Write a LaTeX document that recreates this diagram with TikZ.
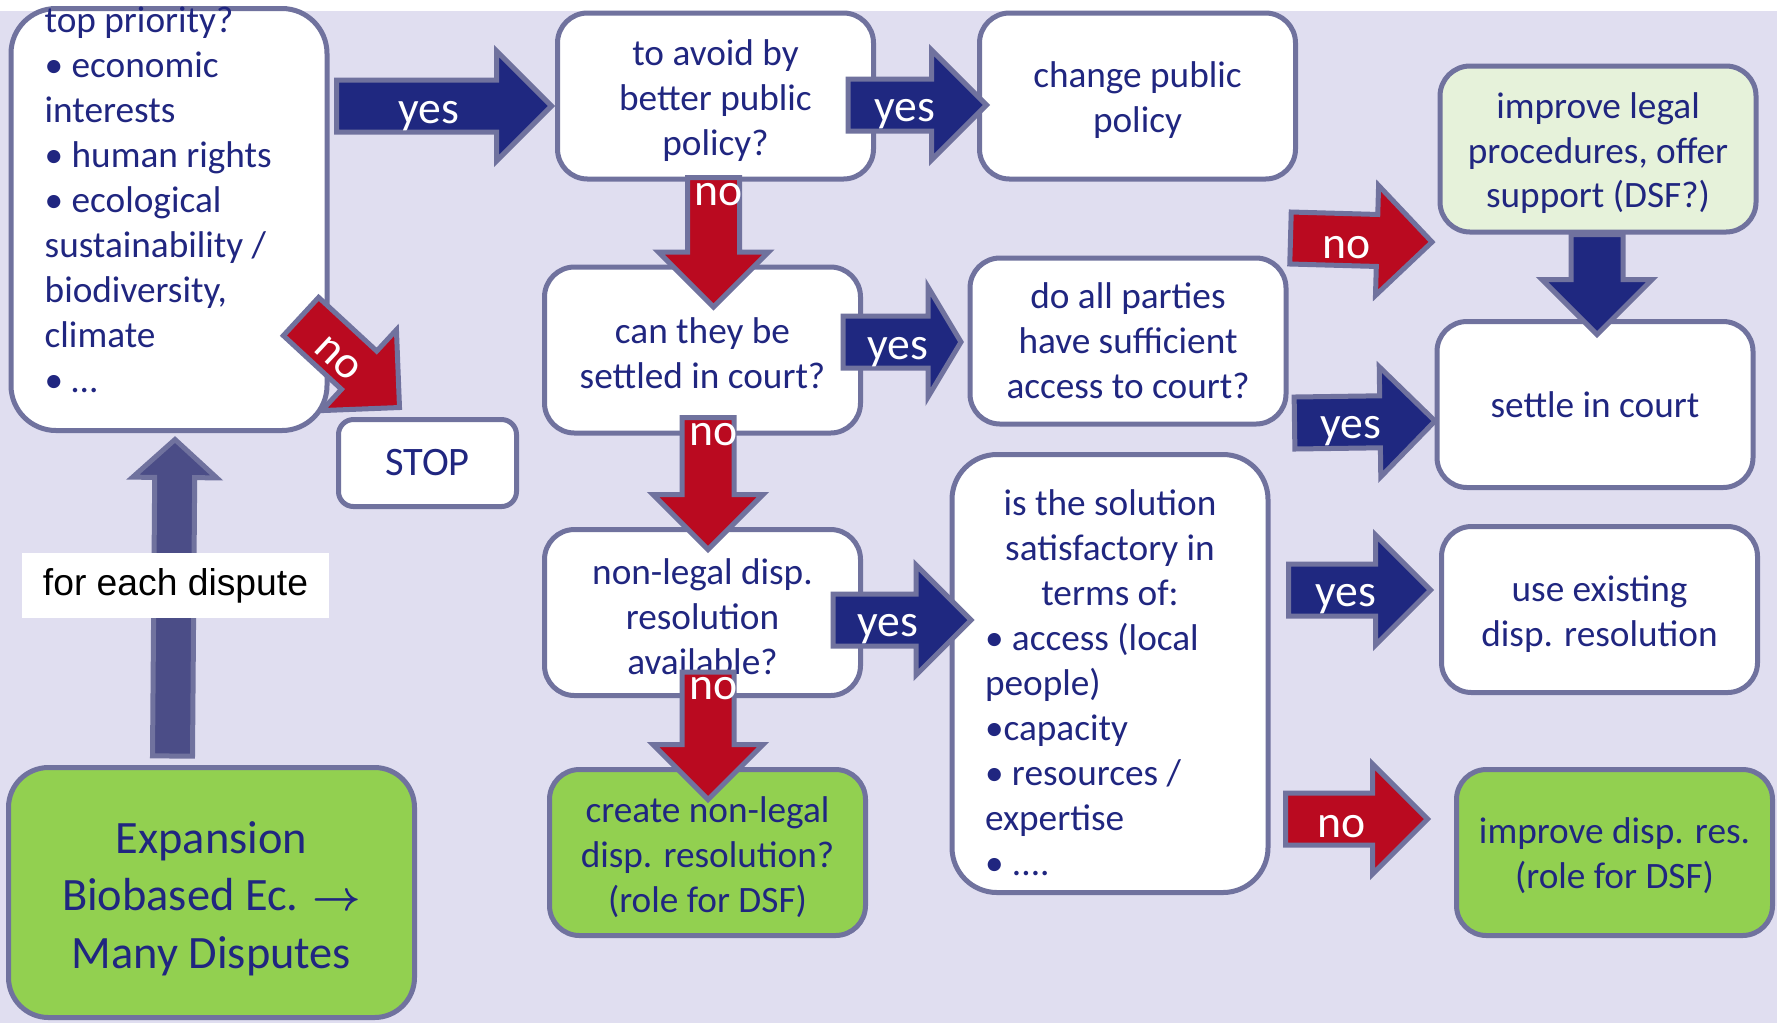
\documentclass[tikz,border=0pt]{standalone}
\usepackage{fontspec}
\setmainfont{Carlito}
\newfontfamily\arialfont{Liberation Sans}
\usetikzlibrary{calc}

\definecolor{ink}{RGB}{32,38,128}
\definecolor{rim}{RGB}{112,114,158}
\definecolor{lav}{RGB}{224,222,240}
\definecolor{yesblue}{RGB}{31,40,128}
\definecolor{nored}{RGB}{186,10,32}
\definecolor{upblue}{RGB}{75,77,135}
\definecolor{leaf}{RGB}{146,208,80}
\definecolor{paleleaf}{RGB}{230,242,218}

\begin{document}
\begin{tikzpicture}[x=0.1mm,y=-0.1mm,
  box/.style={draw=rim,line width=0.5mm,fill=white,rounded corners=3mm,
    minimum width=31.6mm,minimum height=16.6mm,inner sep=0pt,
    text=ink,align=center,font=\fontsize{10.6}{12.8}\selectfont},
  txt/.style={text=ink,inner sep=0pt,font=\fontsize{10.6}{12.8}\selectfont},
  fat/.style={to path={let \p1=(\tikztostart),\p2=(\tikztotarget),
      \n1={atan2(\y2-\y1,\x2-\x1)} in
      ($(\p1)+({\n1+90}:\shafthalf)$)
      -- ($(\p2)+({\n1+180}:\headlen)+({\n1+90}:\shafthalf)$)
      -- ($(\p2)+({\n1+180}:\headlen)+({\n1+90}:\headhalf)$)
      -- (\p2)
      -- ($(\p2)+({\n1+180}:\headlen)+({\n1-90}:\headhalf)$)
      -- ($(\p2)+({\n1+180}:\headlen)+({\n1-90}:\shafthalf)$)
      -- ($(\p1)+({\n1-90}:\shafthalf)$) -- cycle}},
  yes arrow/.style={draw=rim,line width=0.5mm,fill=yesblue},
  no arrow/.style={draw=rim,line width=0.5mm,fill=nored},
  lab/.style={text=white,inner sep=0pt,font=\fontsize{13}{15}\selectfont},
  short head/.code={\def\headlen{3.3mm}},
  slim arrow/.code={\def\shafthalf{2mm}\def\headhalf{4.2mm}\def\headlen{3.8mm}}]

\def\shafthalf{2.6mm}
\def\headhalf{5.5mm}
\def\headlen{5.5mm}

\useasboundingbox (0,0) rectangle (1777,1023);
\clip (0,0) rectangle (1777,1023);
\fill[white] (0,0) rectangle (1777,1023);
\fill[lav] (0,11) rectangle (1777,1023);

\node[box,minimum height=42.2mm,rounded corners=4.5mm] (prio) at (169,219.5) {};
\node[txt,align=left,anchor=west] (priotext) at (44,199.5)
  {top priority?\\• economic\\interests\\• human rights\\• ecological\\
   sustainability /\\biodiversity,\\climate\\• …};
\node[box] (avoid) at (715.5,96) {\rule{0pt}{3.5mm}to avoid by\\better public\\policy?};
\node[box] (change) at (1137.5,96) {\rule{0pt}{3.4mm}change public\\policy};
\node[box,fill=paleleaf] (legal) at (1598,149) {\rule{0pt}{3.4mm}improve legal\\procedures, offer\\support (DSF?)};
\node[box] (can) at (702.5,350) {\rule{0pt}{3.2mm}can they be\\settled in court?};
\node[box] (do) at (1128,341) {do all parties\\have sufficient\\access to court?};
\node[box] (settle) at (1595,404.5) {settle in court};
\node[box,minimum width=17.8mm,minimum height=8.7mm,rounded corners=1.5mm,
  font=\fontsize{11.5}{13}\selectfont] (stop) at (427.5,463) {STOP};
\node[box] (nonlegal) at (702.5,612.5) {\rule{0pt}{3.4mm}non-legal disp.\\resolution\\available?};
\node[box,minimum height=43.8mm,rounded corners=4.5mm,align=left] (issol) at (1110,673.5)
  {\rule{0pt}{4.4mm}\makebox[25mm][c]{is the solution}\\
   \makebox[25mm][c]{satisfactory in}\\
   \makebox[25mm][c]{terms of:}\\
   • access (local\\people)\\•capacity\\• resources /\\expertise\\• ....};
\node[box] (use) at (1599.5,609.5) {\rule{0pt}{3.4mm}use existing\\disp. resolution};
\node[box,fill=leaf] (create) at (707.5,852.5) {\rule{0pt}{3.6mm}create non-legal\\disp. resolution?\\(role for DSF)};
\node[box,fill=leaf] (disp) at (1614.5,852.5) {\rule{0pt}{3.3mm}improve disp. res.\\(role for DSF)};
\node[box,fill=leaf,minimum width=40.6mm,minimum height=25mm,rounded corners=4mm,
  font=\fontsize{13.2}{16.4}\selectfont] (expansion) at (211.5,892.5)
  {\rule{0pt}{4.4mm}Expansion\\Biobased Ec. {\large\boldmath$\rightarrow$}\\Many Disputes};

\draw[yes arrow] ($(avoid.west -| prio.east)+(7,10)$) to[fat] ($(avoid.west)+(-3.5,10)$);
\draw[yes arrow] ($(avoid.east)+(-28,9)$) to[fat] ($(change.west)+(9.5,9)$);
\draw[no arrow] ($(avoid.south)+(-2,-4)$) to[fat] ($(avoid.south |- can.north)+(-2,42.5)$);
\draw[yes arrow,short head] ($(can.east)+(-20,-8)$) to[fat] ($(do.west)+(-6.5,1)$);
\draw[no arrow] ($(do.north east)+(2,-17.5)$) to[fat] ($(legal.south west)+(-5.5,7.5)$);
\draw[yes arrow] ($(legal.south)+(-1,0)$) to[fat] ($(settle.north)+(2,15.5)$);
\draw[yes arrow] ($(do.south east)+(6,-3.5)$) to[fat] ($(settle.west)+(0.5,16.5)$);
\draw[no arrow] ($(can.south)+(5.5,-18)$) to[fat] ($(nonlegal.north)+(5.5,22.5)$);
\draw[yes arrow] ($(nonlegal.east)+(-30,7.5)$) to[fat] ($(issol.west |- nonlegal.east)+(21.5,7.5)$);
\draw[no arrow] ($(nonlegal.south)+(5.5,-26)$) to[fat] ($(create.north)+(0.5,32.5)$);
\draw[yes arrow] ($(use.west -| issol.east)+(18,-19.5)$) to[fat] ($(use.west)+(-8.5,-19.5)$);
\draw[no arrow] ($(disp.west -| issol.east)+(15,-33.5)$) to[fat] ($(disp.west)+(-26.5,-33.5)$);
\draw[no arrow] ($(prio.south east)+(-28.5,-116.5)$) to[fat] ($(stop.north west)+(63.5,-9.5)$);
\draw[draw=rim,line width=0.5mm,fill=upblue,slim arrow] ($(expansion.north west)+(166.5,-9)$) to[fat] ($(prio.south)+(6,6.5)$);

\node[lab] (yes1) at (429,116) {yes};
\node[lab] (yes2) at (905,114) {yes};
\node[lab] (no1) at (719,195) {no};
\node[lab] (yes3) at (898,352) {yes};
\node[lab] (no2) at (1347,248) {no};
\node[lab] (yes4) at (1351,431) {yes};
\node[lab] (no3) at (714,435) {no};
\node[lab] (yes5) at (888,629) {yes};
\node[lab] (no4) at (714,689) {no};
\node[lab] (yes6) at (1346,599) {yes};
\node[lab] (no5) at (1342,827) {no};
\node[lab,rotate=-43] (no0) at (338,359) {no};

\node[fill=white,minimum width=30.7mm,minimum height=6.5mm,inner sep=0pt,
  font=\arialfont\fontsize{10.6}{12}\selectfont] (foreach) at (175.5,585.5) {for each dispute};

\end{tikzpicture}
\end{document}
